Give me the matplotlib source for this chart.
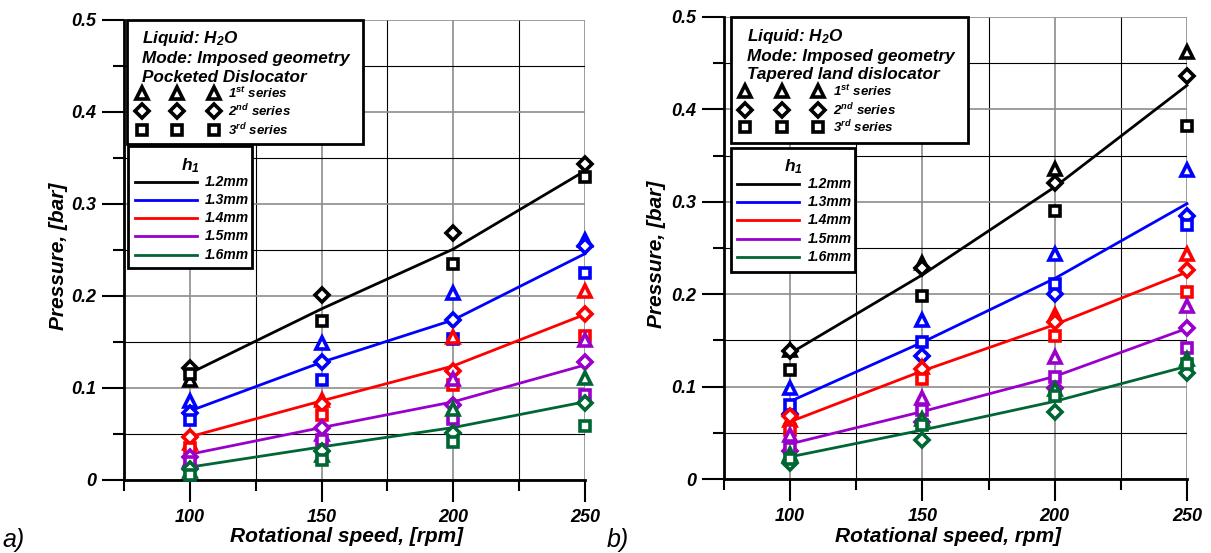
"""
Pressure vs rotational speed for two dislocator geometries.
a) pocketed dislocator, b) tapered land dislocator.
"""
import numpy as np
import matplotlib
matplotlib.use('Agg')
import matplotlib.pyplot as plt
from matplotlib.lines import Line2D
from matplotlib.patches import Rectangle
from matplotlib.ticker import MultipleLocator, FuncFormatter

plt.rcParams['font.family'] = ['Liberation Sans', 'DejaVu Sans']
plt.rcParams['font.weight'] = 'bold'
plt.rcParams['font.style'] = 'italic'
plt.rcParams['mathtext.fontset'] = 'custom'
plt.rcParams['mathtext.rm'] = 'Liberation Sans:bold:italic'
plt.rcParams['mathtext.it'] = 'Liberation Sans:bold:italic'
plt.rcParams['mathtext.bf'] = 'Liberation Sans:bold:italic'

W, H = 1211, 553
nan = np.nan

speed = [100, 150, 200, 250]
gaps = ['1.2mm', '1.3mm', '1.4mm', '1.5mm', '1.6mm']
colors = ['black', '#0000ff', '#ff0000', '#9900cc', '#006633']
series_names = ['1$^{st}$ series', '2$^{nd}$ series', '3$^{rd}$ series']

# a) pocketed dislocator, one row per gap h1
a_fit = [[0.116, 0.186, 0.251, 0.336],
         [0.075, 0.128, 0.174, 0.246],
         [0.047, 0.086, 0.124, 0.180],
         [0.028, 0.057, 0.085, 0.125],
         [0.014, 0.036, 0.057, 0.085]]
a_s1 = [[0.109, nan, nan, nan],
        [0.086, 0.149, 0.203, 0.261],
        [0.040, 0.087, 0.155, 0.205],
        [0.022, 0.050, 0.110, 0.152],
        [0.010, 0.027, 0.077, 0.111]]
a_s2 = [[0.122, 0.201, 0.268, 0.343],
        [0.073, 0.128, 0.174, 0.254],
        [0.047, 0.083, 0.118, 0.180],
        [0.025, 0.056, 0.081, 0.128],
        [0.012, 0.031, 0.051, 0.084]]
a_s3 = [[0.115, 0.173, 0.235, 0.329],
        [0.065, 0.109, 0.153, 0.225],
        [0.035, 0.071, 0.103, 0.157],
        [0.020, 0.044, 0.066, 0.092],
        [0.005, 0.022, 0.041, 0.059]]

# b) tapered land dislocator
b_fit = [[0.136, 0.221, 0.316, 0.426],
         [0.084, 0.148, 0.217, 0.298],
         [0.062, 0.117, 0.167, 0.224],
         [0.038, 0.073, 0.111, 0.163],
         [0.024, 0.053, 0.084, 0.122]]
b_s1 = [[0.140, 0.234, 0.335, 0.462],
        [0.098, 0.172, 0.244, 0.334],
        [0.064, 0.121, 0.177, 0.243],
        [0.048, 0.088, 0.132, 0.187],
        [0.027, 0.065, 0.097, 0.130]]
b_s2 = [[0.138, 0.228, 0.320, 0.436],
        [0.070, 0.133, 0.200, 0.285],
        [0.068, 0.119, 0.170, 0.226],
        [0.030, 0.062, 0.099, 0.163],
        [0.017, 0.042, 0.072, 0.115]]
b_s3 = [[0.118, 0.198, 0.290, 0.382],
        [0.080, 0.148, 0.211, 0.275],
        [0.053, 0.108, 0.155, 0.202],
        [0.034, 0.075, 0.110, 0.142],
        [0.022, 0.058, 0.090, 0.125]]

# marker style per series: triangle, diamond, square
mk = [('^', 8), ('D', 7.2), ('s', 7.5)]


def fx(x):
    return x / W


def fy(y):
    return 1 - y / H


fig = plt.figure(figsize=(W / 100, H / 100), dpi=100)
ax_a = fig.add_axes([fx(124), fy(480), (585 - 124) / W, 460 / H])
ax_b = fig.add_axes([fx(724), fy(479), (1187 - 724) / W, 462 / H])


def draw_panel(ax, fit, s1, s2, s3):
    for i in range(len(gaps)):
        ax.plot(speed, fit[i], color=colors[i], lw=2, clip_on=False, zorder=3)
        for (m, ms), s in zip(mk, [s1, s2, s3]):
            ax.plot(speed, s[i], ls='none', marker=m, ms=ms, mfc='white',
                    mec=colors[i], mew=2.6, clip_on=False, zorder=4)

    ax.set_xlim(75, 250)
    ax.set_ylim(0, 0.5)
    ax.xaxis.set_major_locator(MultipleLocator(50))
    ax.xaxis.set_minor_locator(MultipleLocator(25))
    ax.yaxis.set_major_locator(MultipleLocator(0.1))
    ax.yaxis.set_minor_locator(MultipleLocator(0.05))
    ax.yaxis.set_major_formatter(FuncFormatter(lambda v, p: '0' if v == 0 else '%.1f' % v))
    ax.grid(which='major', color='#8c8c8c', lw=1.2)
    ax.grid(which='minor', color='black', lw=0.8)
    ax.set_axisbelow(True)
    ax.spines['top'].set_visible(False)
    ax.spines['right'].set_visible(False)
    ax.spines['left'].set_linewidth(2)
    ax.spines['bottom'].set_linewidth(2)
    ax.tick_params(which='major', length=16, width=1.5, labelsize=13)
    ax.tick_params(which='minor', length=8, width=1.5)
    ax.tick_params(axis='x', which='major', pad=5)
    ax.tick_params(axis='y', which='major', pad=4)


draw_panel(ax_a, a_fit, a_s1, a_s2, a_s3)
draw_panel(ax_b, b_fit, b_s1, b_s2, b_s3)


def info_box(box, x_text, text_rows, title, mk_x, mk_rows, x_series):
    x0, y0, x1, y1 = box
    fig.add_artist(Rectangle((fx(x0), fy(y1)), (x1 - x0) / W, (y1 - y0) / H,
                             transform=fig.transFigure, fc='white', ec='black',
                             lw=2, zorder=5))
    for txt, y in zip(['Liquid: H$_2$O', 'Mode: Imposed geometry', title], text_rows):
        fig.text(fx(x_text), fy(y), txt, fontsize=12.3, va='center', zorder=6)
    for (m, ms), y, name in zip(mk, mk_rows, series_names):
        for x in mk_x:
            fig.add_artist(Line2D([fx(x)], [fy(y)], transform=fig.transFigure,
                                  marker=m, ms=ms, mfc='white', mec='black',
                                  mew=2.6, ls='none', zorder=6))
        fig.text(fx(x_series), fy(y), name, fontsize=9.5, va='center', zorder=6)


def gap_box(box, x_title, y_title, x_line, line_rows, x_label):
    x0, y0, x1, y1 = box
    fig.add_artist(Rectangle((fx(x0), fy(y1)), (x1 - x0) / W, (y1 - y0) / H,
                             transform=fig.transFigure, fc='white', ec='black',
                             lw=2, zorder=5))
    fig.text(fx(x_title), fy(y_title), 'h$_1$', fontsize=12.5, ha='center',
             va='center', zorder=6)
    for g, c, y in zip(gaps, colors, line_rows):
        fig.add_artist(Line2D([fx(x_line[0]), fx(x_line[1])], [fy(y), fy(y)],
                              transform=fig.transFigure, color=c, lw=2, zorder=6))
        fig.text(fx(x_label), fy(y), g, fontsize=10, va='center', zorder=6)


info_box((127, 20, 363, 144), 142, [38, 58, 77], 'Pocketed Dislocator',
         [142, 177, 214], [93, 111, 130], 228)
gap_box((128, 146, 252, 268), 190, 166, (135, 197), [182, 200, 218, 236, 255], 205)

info_box((731, 17, 968, 143), 747, [36, 57, 75], 'Tapered land dislocator',
         [745, 782, 818], [91, 110, 127], 833)
gap_box((731, 148, 855, 272), 793, 167, (737, 799), [184, 202, 220, 239, 257], 808)

# axis titles
fig.text(fx(58), fy(256), 'Pressure, [bar]', fontsize=15, rotation=90,
         ha='center', va='center')
fig.text(fx(657), fy(254), 'Pressure, [bar]', fontsize=15, rotation=90,
         ha='center', va='center')
fig.text(fx(347), fy(537), 'Rotational speed, [rpm]', fontsize=15,
         ha='center', va='center')
fig.text(fx(948), fy(537), 'Rotational speed, rpm]', fontsize=15,
         ha='center', va='center')

fig.text(fx(2), fy(540), 'a)', fontsize=18, weight='normal', va='center')
fig.text(fx(607), fy(540), 'b)', fontsize=18, weight='normal', va='center')

fig.savefig('out.png', dpi=100)
